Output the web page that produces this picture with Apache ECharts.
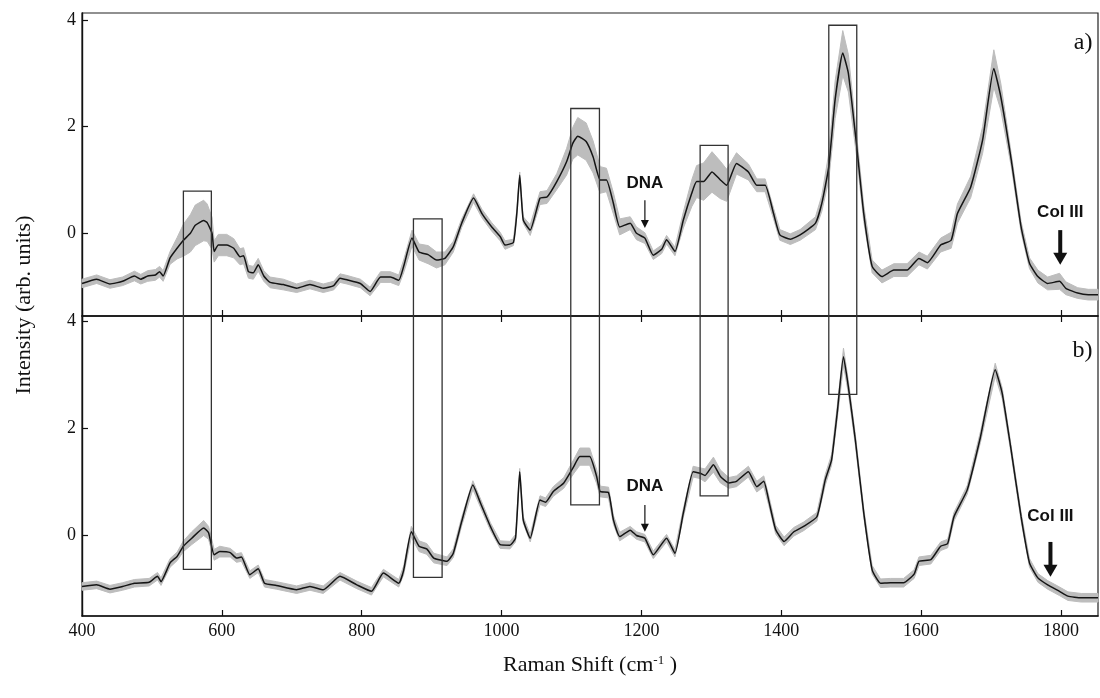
<!DOCTYPE html>
<html>
<head>
<meta charset="utf-8">
<script src="https://cdn.jsdelivr.net/npm/echarts@6/dist/echarts.min.js"></script>
<style>
html,body{margin:0;padding:0;background:#fff;}
#c{width:1100px;height:698px;}
</style>
</head>
<body>
<div id="c"></div>
<script>
// ---------------- data ----------------
const xTicks = [400, 600, 800, 1000, 1200, 1400, 1600, 1800];
const yTicks = [0, 2, 4];

// panel a)
const shiftA = [400,421,440,458,475,484,494,505,511,516,526,536,545,555,562,574,579,586,589,595,607,617,626,631,638,645,652,660,669,688,707,726,745,760,769,779,798,812,827,841,853,860,872,882,895,907,919,931,943,960,972,986,998,1005,1017,1022,1026,1031,1041,1055,1065,1079,1093,1102,1109,1121,1131,1141,1150,1160,1169,1184,1193,1205,1217,1229,1236,1248,1260,1272,1279,1289,1301,1313,1322,1336,1353,1365,1377,1389,1398,1413,1427,1449,1458,1468,1477,1488,1496,1508,1518,1530,1544,1561,1580,1597,1609,1628,1643,1652,1671,1688,1704,1714,1729,1743,1755,1767,1781,1798,1807,1824,1839,1853];
const meanA = [-0.94,-0.86,-0.95,-0.90,-0.80,-0.86,-0.80,-0.78,-0.72,-0.80,-0.46,-0.28,-0.13,0.00,0.15,0.24,0.20,0.00,-0.34,-0.22,-0.22,-0.28,-0.44,-0.42,-0.72,-0.74,-0.59,-0.80,-0.92,-0.96,-1.03,-0.96,-1.03,-0.98,-0.84,-0.87,-0.94,-1.09,-0.82,-0.82,-0.88,-0.62,-0.09,-0.35,-0.40,-0.50,-0.47,-0.25,0.19,0.66,0.37,0.12,-0.06,-0.22,-0.17,0.40,1.09,0.25,0.06,0.66,0.68,0.97,1.34,1.69,1.82,1.72,1.43,1.00,1.00,0.56,0.12,0.19,0.00,-0.09,-0.41,-0.30,-0.12,-0.34,0.25,0.75,0.97,0.97,1.15,1.00,0.90,1.31,1.15,0.90,0.90,0.37,-0.03,-0.11,-0.03,0.19,0.56,1.25,2.50,3.38,3.00,1.62,0.37,-0.62,-0.81,-0.69,-0.69,-0.47,-0.55,-0.22,-0.13,0.37,0.87,1.75,3.09,2.56,1.37,0.12,-0.56,-0.81,-0.94,-0.90,-1.03,-1.12,-1.15,-1.15];
const sdA = [0.08,0.08,0.08,0.08,0.09,0.09,0.10,0.10,0.10,0.10,0.12,0.20,0.30,0.35,0.38,0.38,0.35,0.30,0.20,0.20,0.20,0.18,0.15,0.15,0.12,0.12,0.12,0.10,0.10,0.10,0.08,0.08,0.08,0.08,0.08,0.08,0.08,0.08,0.10,0.10,0.10,0.12,0.15,0.15,0.17,0.15,0.12,0.10,0.08,0.08,0.08,0.08,0.08,0.08,0.06,0.06,0.06,0.06,0.10,0.12,0.12,0.15,0.25,0.30,0.35,0.35,0.30,0.25,0.22,0.20,0.15,0.12,0.12,0.10,0.08,0.08,0.08,0.08,0.15,0.25,0.30,0.35,0.38,0.35,0.30,0.20,0.15,0.12,0.12,0.10,0.10,0.10,0.10,0.12,0.15,0.25,0.35,0.42,0.35,0.20,0.15,0.12,0.12,0.12,0.12,0.12,0.12,0.13,0.15,0.18,0.20,0.25,0.35,0.25,0.12,0.10,0.10,0.12,0.12,0.15,0.12,0.10,0.10,0.10];

// panel b)
const shiftB = [400,421,440,458,475,496,508,513,526,536,545,557,574,581,589,597,612,621,628,640,652,661,678,707,726,745,769,793,814,831,853,860,871,882,893,903,922,931,943,959,970,984,998,1012,1020,1026,1031,1041,1055,1063,1074,1089,1103,1112,1126,1136,1141,1153,1160,1169,1184,1193,1205,1217,1236,1248,1260,1274,1284,1291,1303,1313,1325,1336,1353,1365,1375,1382,1392,1404,1418,1432,1451,1463,1472,1480,1489,1496,1506,1518,1530,1542,1556,1575,1590,1597,1614,1628,1638,1647,1666,1685,1706,1716,1728,1743,1755,1767,1781,1798,1810,1829,1853];
const meanB = [-0.95,-0.92,-1.00,-0.95,-0.89,-0.87,-0.76,-0.86,-0.51,-0.39,-0.20,-0.05,0.14,0.05,-0.36,-0.30,-0.32,-0.42,-0.40,-0.73,-0.62,-0.89,-0.93,-1.01,-0.95,-1.01,-0.76,-0.92,-1.04,-0.70,-0.89,-0.65,0.07,-0.20,-0.25,-0.42,-0.48,-0.33,0.26,0.94,0.60,0.17,-0.17,-0.18,-0.05,1.19,0.29,-0.05,0.66,0.62,0.82,0.98,1.28,1.47,1.47,1.10,0.82,0.80,0.29,-0.02,0.10,0.00,-0.05,-0.36,-0.05,-0.33,0.42,1.19,1.16,1.12,1.32,1.10,0.98,1.01,1.19,0.91,1.01,0.66,0.11,-0.11,0.07,0.17,0.35,1.04,1.41,2.28,3.33,2.77,1.78,0.42,-0.64,-0.89,-0.88,-0.88,-0.72,-0.48,-0.45,-0.20,-0.15,0.35,0.85,1.84,3.09,2.65,1.66,0.35,-0.51,-0.79,-0.92,-1.04,-1.13,-1.16,-1.16];
const sdB = [0.07,0.07,0.07,0.07,0.07,0.07,0.07,0.07,0.08,0.08,0.10,0.12,0.14,0.12,0.10,0.10,0.08,0.08,0.08,0.07,0.07,0.07,0.07,0.07,0.07,0.07,0.07,0.07,0.07,0.07,0.07,0.08,0.10,0.10,0.10,0.09,0.08,0.08,0.08,0.08,0.08,0.07,0.07,0.07,0.07,0.06,0.06,0.07,0.08,0.08,0.09,0.10,0.13,0.16,0.16,0.13,0.10,0.10,0.08,0.08,0.07,0.07,0.07,0.07,0.07,0.07,0.08,0.10,0.10,0.12,0.14,0.12,0.10,0.10,0.10,0.10,0.10,0.09,0.08,0.08,0.08,0.08,0.08,0.10,0.10,0.12,0.16,0.12,0.10,0.08,0.08,0.08,0.08,0.08,0.08,0.08,0.08,0.08,0.08,0.08,0.08,0.10,0.12,0.10,0.08,0.08,0.08,0.08,0.08,0.08,0.08,0.08,0.08];

// highlighted regions: [from, to, top of box in panel a, bottom of box in panel b]
const boxFrom = [545, 874, 1099, 1284, 1468];
const boxTo   = [585, 915, 1140, 1324, 1508];
const boxTopA = [0.79, 0.27, 2.34, 1.65, 3.90];
const boxBotB = [-0.63, -0.78, 0.57, 0.74, 2.63];

// ---------------- helpers ----------------
function pairs(xs, ys) { return xs.map((x, i) => [x, ys[i]]); }
function bandData(xs, m, s) { return xs.map((x, i) => [x, +(m[i] - s[i]).toFixed(3), +(m[i] + s[i]).toFixed(3)]); }

const SERIF = '"Liberation Serif", "Times New Roman", serif';
const SANS = '"Liberation Sans", Arial, sans-serif';
const BAND = '#bdbdbd';
const LINE = '#151515';

function xAxisCfg(gridIndex, position, showLabels, extra) {
  return Object.assign({
    type: 'value', gridIndex: gridIndex, position: position,
    min: 400, max: 1853, interval: 200,
    axisLine: { show: true, onZero: false, lineStyle: { color: '#111', width: 1.6 } },
    axisTick: { show: true, inside: true, length: 6, lineStyle: { color: '#111', width: 1.2 },
                customValues: xTicks },
    axisLabel: { show: showLabels, color: '#111', fontFamily: SERIF, fontSize: 18, margin: 6,
                 customValues: xTicks, formatter: v => String(v) },
    splitLine: { show: false }
  }, extra || {});
}
function yAxisCfg(gridIndex, min, max) {
  return {
    type: 'value', gridIndex: gridIndex, min: min, max: max,
    axisLine: { show: true, onZero: false, lineStyle: { color: '#111', width: 1.4 } },
    axisTick: { show: true, inside: true, length: 6, lineStyle: { color: '#111', width: 1.2 },
                customValues: yTicks },
    axisLabel: { show: true, color: '#111', fontFamily: SERIF, fontSize: 18, margin: 6,
                 customValues: yTicks, formatter: v => String(v) },
    splitLine: { show: false }
  };
}
function bandSeries(idx, xs, m, s) {
  const data = bandData(xs, m, s);
  return [
    { type: 'custom', xAxisIndex: idx, yAxisIndex: idx, data: data, silent: true, z: 1,
      encode: { x: 0, y: [1, 2] },
      renderItem: function (params, api) {
        if (params.dataIndex !== 0) return null;
        const up = [], lo = [];
        for (let i = 0; i < data.length; i++) {
          up.push(api.coord([data[i][0], data[i][2]]));
          lo.push(api.coord([data[i][0], data[i][1]]));
        }
        return { type: 'polygon', shape: { points: up.concat(lo.reverse()), smooth: 0 },
                 style: { fill: BAND, stroke: BAND, lineWidth: 1 } };
      } },
    { type: 'line', xAxisIndex: idx, yAxisIndex: idx, data: pairs(xs, m), symbol: 'none',
      smooth: 0.15, lineStyle: { color: LINE, width: 1.5 }, z: 3 }
  ];
}

const chart = echarts.init(document.getElementById('c'), null, { renderer: 'canvas' });

const option = {
  backgroundColor: '#fff',
  animation: false,
  grid: [
    { left: 82, right: 2, top: 13, height: 303, show: true, borderColor: '#222', borderWidth: 1.2, backgroundColor: 'transparent' },
    { left: 82, right: 2, top: 316, height: 300, show: true, borderColor: '#222', borderWidth: 1.2, backgroundColor: 'transparent' }
  ],
  xAxis: [
    xAxisCfg(0, 'bottom', false),
    xAxisCfg(1, 'bottom', true, {
      name: '{a|Raman Shift (cm}{s|-1}{a| )}',
      nameLocation: 'middle', nameGap: 38,
      nameTextStyle: { rich: {
        a: { fontFamily: SERIF, fontSize: 22, color: '#111' },
        s: { fontFamily: SERIF, fontSize: 13, color: '#111', verticalAlign: 'top', padding: [0, 0, 10, 0] }
      } }
    }),
    xAxisCfg(1, 'top', false, { axisLine: { show: false, onZero: false } })
  ],
  yAxis: [
    yAxisCfg(0, -1.55, 4.13),
    yAxisCfg(1, -1.5, 4.09)
  ],
  series: [].concat(
    bandSeries(0, shiftA, meanA, sdA),
    bandSeries(1, shiftB, meanB, sdB),
    [{ type: 'line', xAxisIndex: 2, yAxisIndex: 1, data: [], symbol: 'none' }]
  )
};
chart.setOption(option);

// ---------------- annotations (positioned in data coordinates) ----------------
const labelsText = [
  { g: 0, x: 1845, y: 3.58, text: 'a)' },
  { g: 1, x: 1845, y: 3.45, text: 'b)' }
];
const notes = [
  { g: 0, x: 1205, ty: 0.94, y1: 0.62, y2: 0.10, text: 'DNA', thick: false },
  { g: 1, x: 1205, ty: 0.91, y1: 0.57, y2: 0.07, text: 'DNA', thick: false },
  { g: 0, x: 1799, ty: 0.40, y1: 0.06, y2: -0.59, text: 'Col III', thick: true },
  { g: 1, x: 1785, ty: 0.35, y1: -0.12, y2: -0.77, text: 'Col III', thick: true }
];

function P(g, x, y) { return chart.convertToPixel({ gridIndex: g }, [x, y]); }

const elements = [];
for (let i = 0; i < boxFrom.length; i++) {
  const p1 = P(0, boxFrom[i], boxTopA[i]);
  const p2 = P(1, boxTo[i], boxBotB[i]);
  elements.push({ type: 'rect', z: 50,
    shape: { x: p1[0], y: p1[1], width: p2[0] - p1[0], height: p2[1] - p1[1] },
    style: { fill: null, stroke: '#333', lineWidth: 1.3 } });
}
notes.forEach(n => {
  const t = P(n.g, n.x, n.ty), a = P(n.g, n.x, n.y1), b = P(n.g, n.x, n.y2);
  elements.push({ type: 'text', z: 50, x: t[0], y: t[1],
    style: { text: n.text, font: '700 17px ' + SANS, fill: '#111',
             align: 'center', verticalAlign: 'middle' } });
  const hw = n.thick ? 7 : 4, hh = n.thick ? 12 : 8, lw = n.thick ? 4 : 1.2;
  elements.push({ type: 'line', z: 50,
    shape: { x1: a[0], y1: a[1], x2: b[0], y2: b[1] - hh + 1 },
    style: { stroke: '#111', lineWidth: lw } });
  elements.push({ type: 'polygon', z: 50,
    shape: { points: [[b[0] - hw, b[1] - hh], [b[0] + hw, b[1] - hh], [b[0], b[1]]] },
    style: { fill: '#111' } });
});
labelsText.forEach(l => {
  const p = P(l.g, l.x, l.y);
  elements.push({ type: 'text', z: 50, x: p[0], y: p[1],
    style: { text: l.text, font: '24px ' + SERIF, fill: '#111', align: 'right', verticalAlign: 'middle' } });
});
elements.push({ type: 'text', z: 50, x: 24, y: 305, rotation: Math.PI / 2,
  style: { text: 'Intensity (arb. units)', font: '22px ' + SERIF, fill: '#111',
           align: 'center', verticalAlign: 'middle' } });

chart.setOption({ graphic: { elements: elements } });
</script>
</body>
</html>
